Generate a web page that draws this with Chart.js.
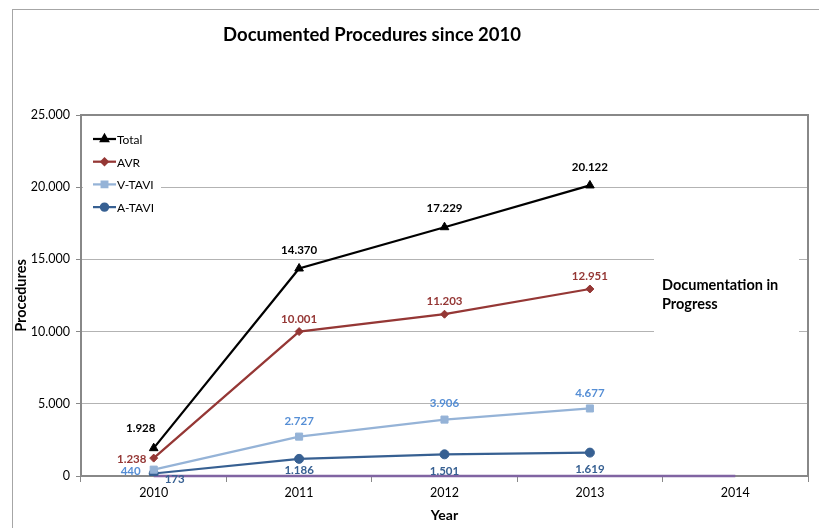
<!DOCTYPE html>
<html>
<head>
<meta charset="utf-8">
<script src="https://cdn.jsdelivr.net/npm/chart.js@4.4.0/dist/chart.umd.min.js"></script>
<style>
  html, body { margin: 0; padding: 0; background: #fff; }
  #wrap { width: 819px; height: 528px; }
</style>
</head>
<body>
<div id="wrap"><canvas id="proceduresChart"></canvas></div>
<script>
const years = ['2010', '2011', '2012', '2013', '2014']
const total = [1928, 14370, 17229, 20122]
const avr = [1238, 10001, 11203, 12951]
const vTavi = [440, 2727, 3906, 4677]
const aTavi = [173, 1186, 1501, 1619]
const inProgress = [0, 0, 0, 0, 0]   // flat purple line along the axis
const yMax = 25000
const yStep = 5000

const FONT = 'Lato, "Liberation Sans", sans-serif'
const fmt = v => v.toLocaleString('de-DE')

// value labels next to each marker
const pointLabels = {
    id: 'pointLabels',
    afterDatasetsDraw(chart) {
        const ctx = chart.ctx
        chart.data.datasets.forEach((ds, i) => {
            if (!ds.labelOffsets) return
            const meta = chart.getDatasetMeta(i)
            ctx.save()
            ctx.font = 'bold 11.5px ' + FONT
            ctx.fillStyle = ds.labelColor
            ctx.textAlign = 'center'
            ctx.textBaseline = 'middle'
            meta.data.forEach((pt, j) => {
                const [dx, dy] = ds.labelOffsets[j]
                ctx.fillText(fmt(ds.data[j]), pt.x + dx, pt.y + dy)
            })
            ctx.restore()
        })
    }
}

// title, frame, text box and the in-plot legend (Excel style)
const decorations = {
    id: 'decorations',
    beforeDraw(chart) {
        const ctx = chart.ctx
        ctx.save()
        ctx.fillStyle = '#fff'
        ctx.fillRect(0, 0, chart.width, chart.height)
        ctx.strokeStyle = '#a6a6a6'
        ctx.lineWidth = 1
        ctx.strokeRect(12.5, 9.5, 900, 600)
        ctx.fillStyle = '#000'
        ctx.font = 'bold 18.5px ' + FONT
        ctx.textAlign = 'center'
        ctx.textBaseline = 'middle'
        ctx.fillText('Documented Procedures since 2010', 372, 35)
        ctx.restore()
    },
    beforeDatasetsDraw(chart) {
        const ctx = chart.ctx
        const a = chart.chartArea
        ctx.save()
        // white boxes over gridlines
        ctx.fillStyle = '#fff'
        ctx.fillRect(a.left + 2, 124, 78, 96)
        ctx.fillRect(654, 240, 145, 105)
        // plot area frame
        ctx.strokeStyle = '#888'
        ctx.lineWidth = 2
        ctx.strokeRect(a.left, a.top, a.right - a.left, a.bottom - a.top)
        // text box
        ctx.fillStyle = '#000'
        ctx.font = 'bold 14.5px ' + FONT
        ctx.textAlign = 'left'
        ctx.textBaseline = 'middle'
        ctx.fillText('Documentation in', 662, 285)
        ctx.fillText('Progress', 662, 304)
        ctx.restore()
    },
    afterDraw(chart) {
        const ctx = chart.ctx
        ctx.save()
        ctx.font = '12px ' + FONT
        ctx.textBaseline = 'middle'
        let y = 139
        chart.data.datasets.forEach(ds => {
            if (!ds.inLegend) return
            ctx.strokeStyle = ds.borderColor
            ctx.lineWidth = 2.25
            ctx.beginPath()
            ctx.moveTo(93, y)
            ctx.lineTo(116, y)
            ctx.stroke()
            ctx.fillStyle = ds.pointBackgroundColor
            ctx.strokeStyle = ds.pointBorderColor
            Chart.helpers.drawPoint(ctx, { pointStyle: ds.pointStyle, radius: ds.pointRadius * 0.8, rotation: 0, borderWidth: 1 }, 104.5, y)
            ctx.fillStyle = '#000'
            ctx.fillText(ds.label, 117, y + 1)
            y += 22.7
        })
        ctx.restore()
    }
}

const lineChart = document.getElementById('proceduresChart').getContext('2d')
new Chart(lineChart, {
    type: 'line',
    data: {
        labels: years,
        datasets: [{
            label: 'Total',
            data: total,
            borderColor: '#000',
            pointBackgroundColor: '#000',
            pointBorderColor: '#000',
            pointStyle: 'triangle',
            pointRadius: 5,
            labelColor: '#000',
            labelOffsets: [[-13, -20], [0, -18], [0, -19], [0, -18]],
            inLegend: true
        }, {
            label: 'AVR',
            data: avr,
            borderColor: '#953735',
            pointBackgroundColor: '#953735',
            pointBorderColor: '#953735',
            pointStyle: 'rectRot',
            pointRadius: 4,
            labelColor: '#953735',
            labelOffsets: [[-22, 1], [0, -12], [0, -13], [0, -13]],
            inLegend: true
        }, {
            label: 'V-TAVI',
            data: vTavi,
            borderColor: '#95b3d7',
            pointBackgroundColor: '#95b3d7',
            pointBorderColor: '#95b3d7',
            pointStyle: 'rect',
            pointRadius: 5,
            labelColor: '#558ed5',
            labelOffsets: [[-23, 2], [0, -15], [0, -16], [0, -15]],
            inLegend: true
        }, {
            label: 'A-TAVI',
            data: aTavi,
            borderColor: '#376092',
            pointBackgroundColor: '#376092',
            pointBorderColor: '#376092',
            pointStyle: 'circle',
            pointRadius: 4.5,
            labelColor: '#376092',
            labelOffsets: [[21, 6], [0, 11], [0, 17], [0, 17]],
            inLegend: true
        }, {
            label: 'In progress',
            data: inProgress,
            borderColor: '#8064a2',
            borderWidth: 2.5,
            pointRadius: 0,
            clip: false
        }]
    },
    options: {
        responsive: true,
        maintainAspectRatio: false,
        animation: false,
        locale: 'de-DE',
        layout: { padding: { left: 0, top: 115, right: 11, bottom: 0 } },
        elements: { line: { borderWidth: 2.25, tension: 0 } },
        plugins: { legend: { display: false }, tooltip: { enabled: false } },
        scales: {
            x: {
                offset: true,
                grid: { offset: true, drawOnChartArea: false, tickLength: 6, tickColor: '#888' },
                border: { color: '#888', width: 2 },
                ticks: { color: '#000', font: { family: FONT, size: 12.5 }, padding: 3 },
                title: { display: true, text: 'Year', color: '#000', font: { family: FONT, size: 14, weight: 'bold' }, padding: { top: 0, bottom: 4 } },
                afterFit(scale) { scale.height = 52 }
            },
            y: {
                min: 0,
                max: yMax,
                ticks: { stepSize: yStep, color: '#000', font: { family: FONT, size: 12.5 }, padding: 6 },
                grid: { color: '#b3b3b3', tickLength: 5, tickColor: '#888' },
                border: { color: '#888', width: 2 },
                title: { display: true, text: 'Procedures', color: '#000', font: { family: FONT, size: 14.5, weight: 'bold' }, padding: { top: 13, bottom: 0 } },
                afterFit(scale) { scale.width = 81 }
            }
        }
    },
    plugins: [decorations, pointLabels]
})
</script>
</body>
</html>
